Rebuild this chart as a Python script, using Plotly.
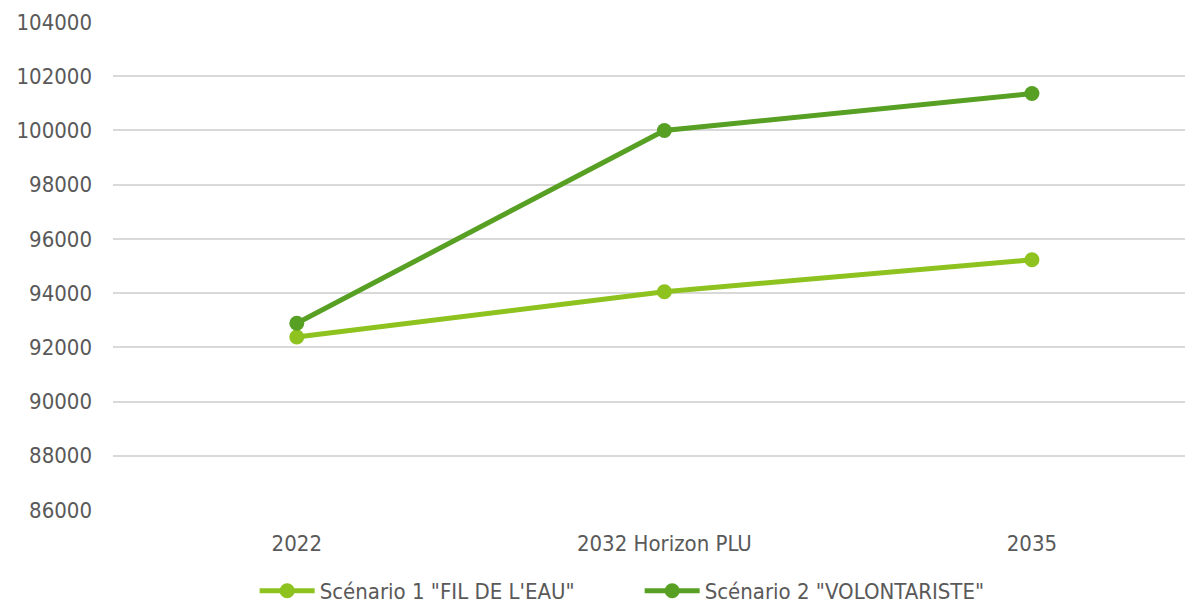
import plotly.graph_objects as go

categories = ["2022", "2032 Horizon PLU", "2035"]
scenario1_name = 'Scénario 1 "FIL DE L\'EAU"'
scenario2_name = 'Scénario 2 "VOLONTARISTE"'
scenario1 = [92380, 94050, 95230]
scenario2 = [92890, 100000, 101360]
y_ticks = [86000, 88000, 90000, 92000, 94000, 96000, 98000, 100000, 102000, 104000]

FONT = "DejaVu Sans Condensed"
TXT = "#595959"
FS = 22

fig = go.Figure()
fig.add_trace(go.Scatter(
    x=categories, y=scenario1, name=scenario1_name, mode="lines+markers",
    line=dict(color="#8DC21F", width=5), marker=dict(size=15, color="#8DC21F"),
))
fig.add_trace(go.Scatter(
    x=categories, y=scenario2, name=scenario2_name, mode="lines+markers",
    line=dict(color="#57A024", width=5), marker=dict(size=15, color="#57A024"),
))

fig.update_layout(
    width=1193, height=605,
    margin=dict(l=105, r=11, t=14, b=103, autoexpand=False),
    paper_bgcolor="white", plot_bgcolor="white",
    font=dict(family=FONT, size=FS, color=TXT),
    showlegend=True,
    legend=dict(orientation="h", x=0.489, xanchor="center", y=-0.166, yanchor="middle",
                font=dict(family=FONT, size=FS, color=TXT),
                itemwidth=55, entrywidth=315, entrywidthmode="pixels",
                traceorder="normal"),
    xaxis=dict(type="category", range=[-0.5, 2.43], showgrid=False, showline=False,
               zeroline=False, ticks="", tickfont=dict(size=FS, color=TXT)),
    yaxis=dict(range=[86000, 104000], tickvals=y_ticks, ticktext=[str(v) for v in y_ticks],
               showgrid=True, gridcolor="#D9D9D9", gridwidth=1.5, zeroline=False,
               showline=False, ticks="", ticklen=0, tickfont=dict(size=FS, color=TXT)),
)
fig.update_yaxes(ticklabelstandoff=20)
fig.update_xaxes(ticklabelstandoff=18)

fig.write_html("out.html")
